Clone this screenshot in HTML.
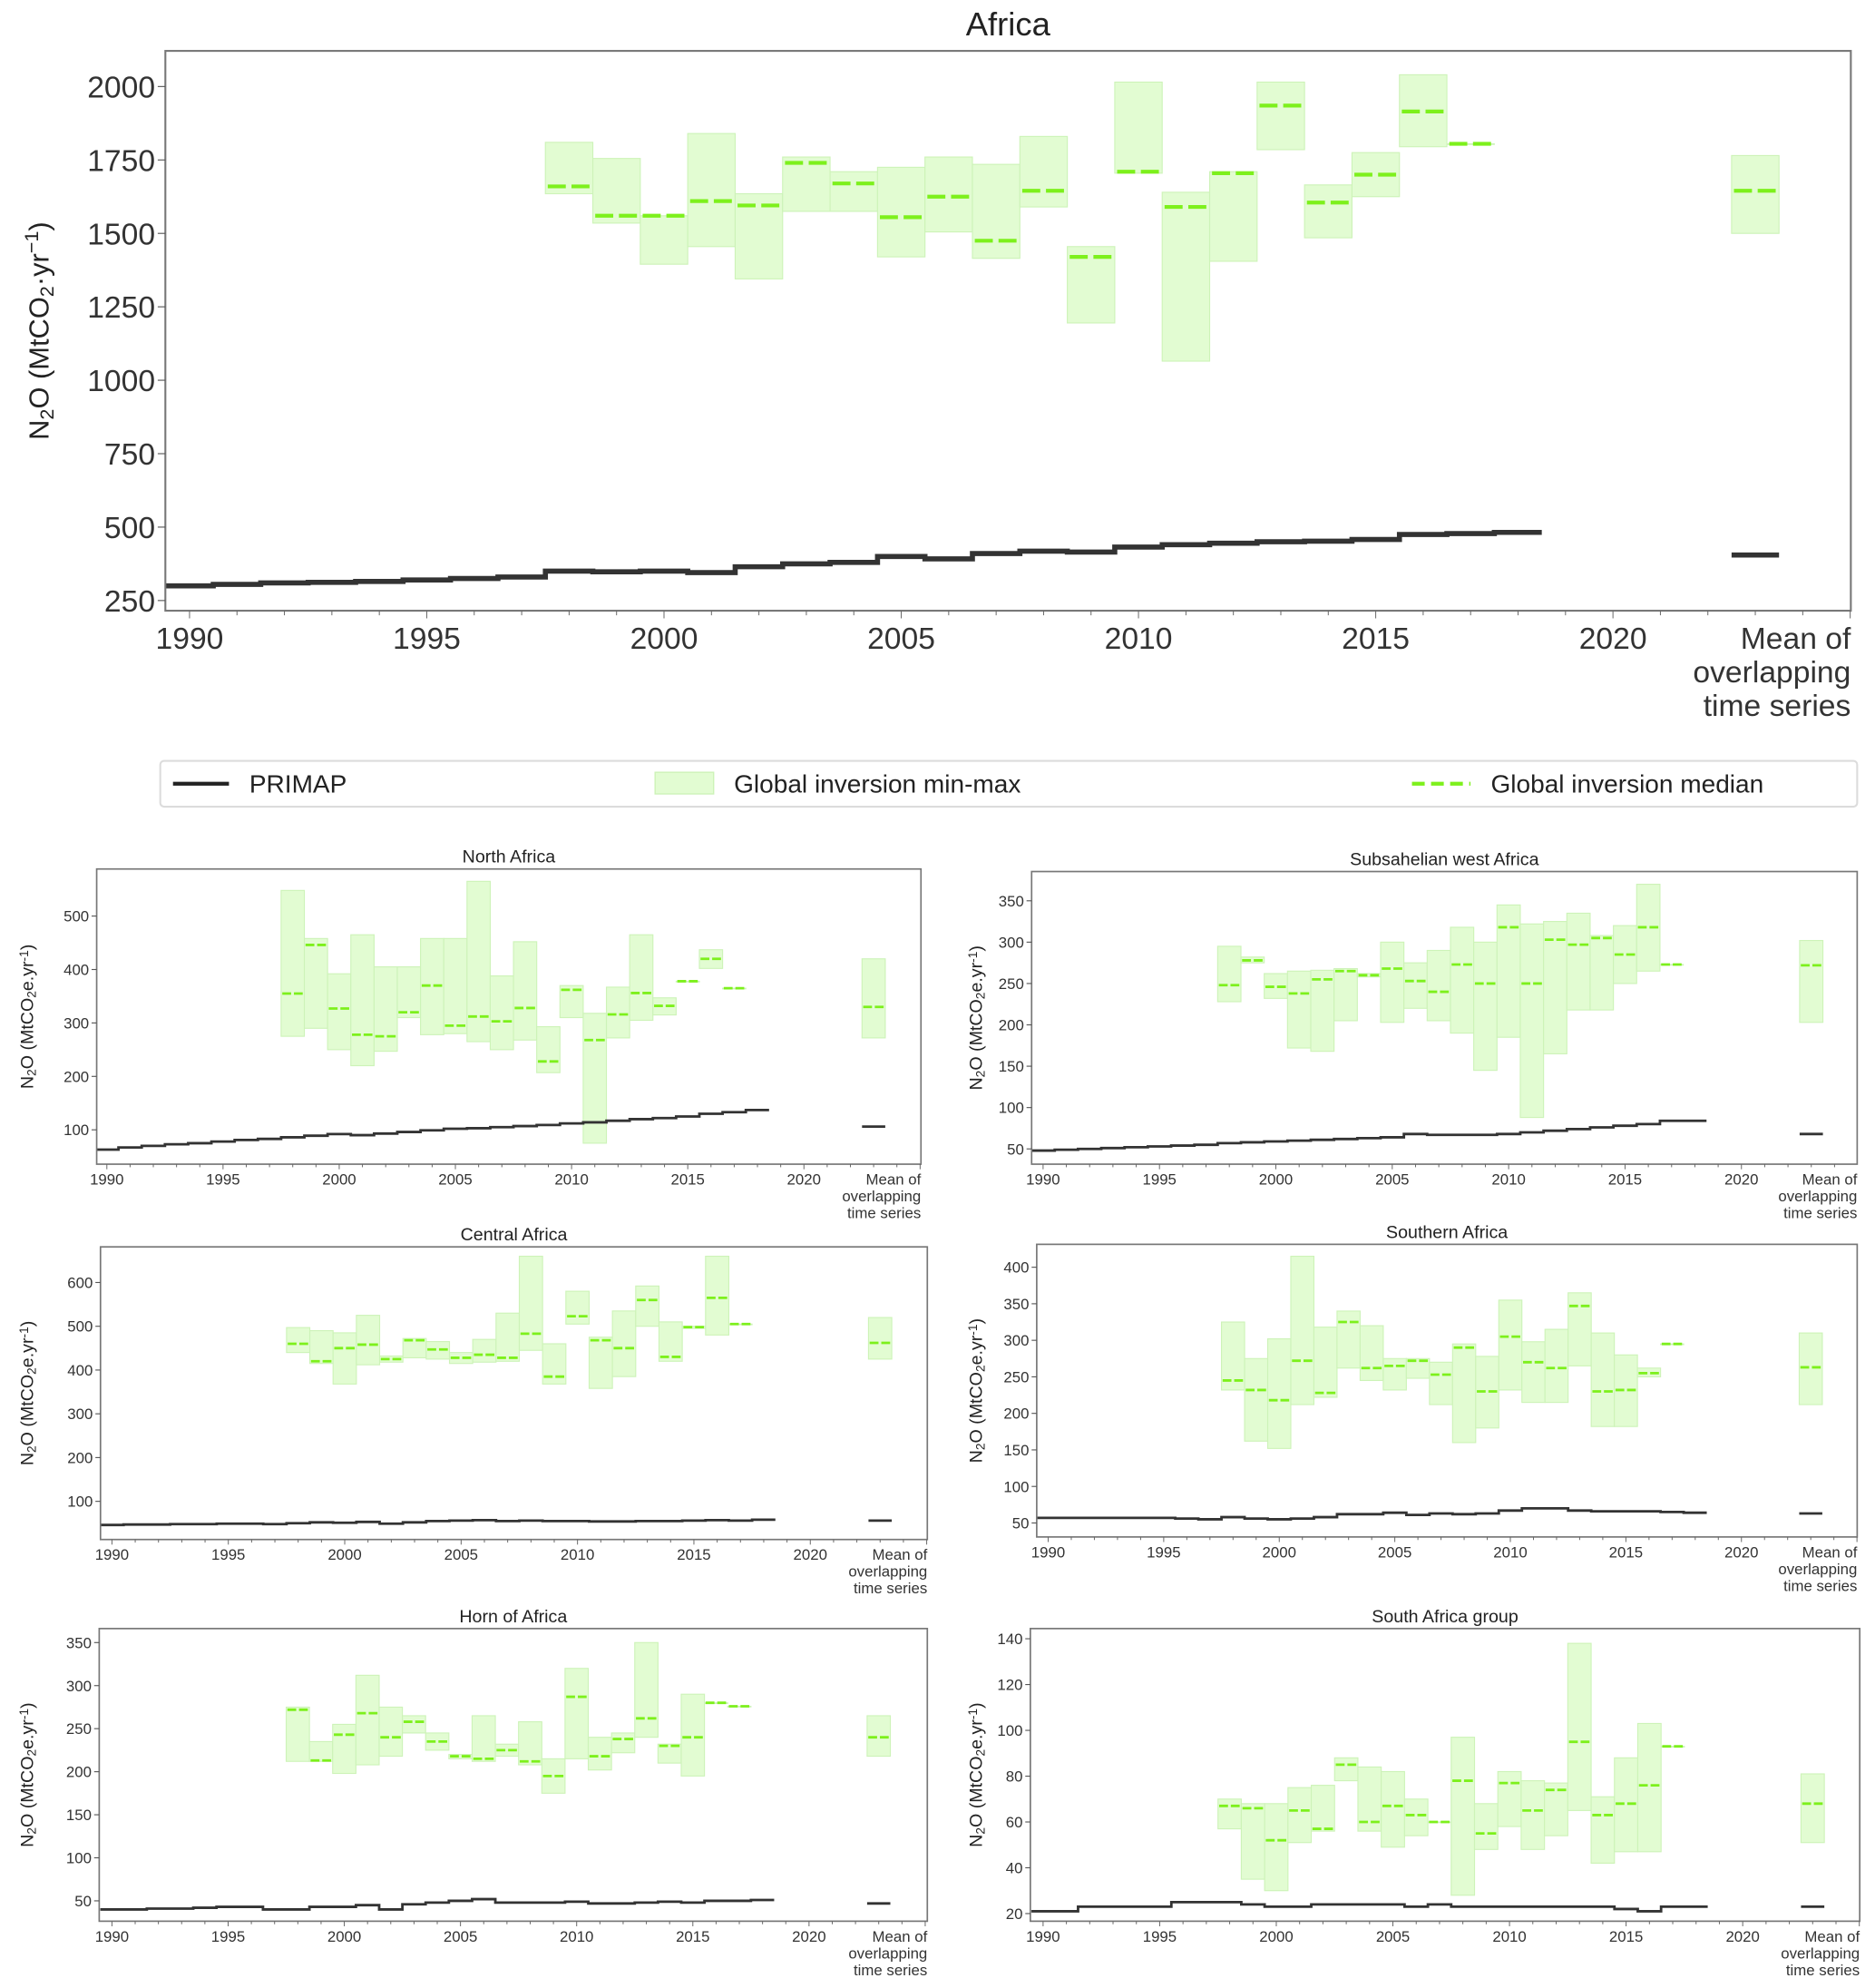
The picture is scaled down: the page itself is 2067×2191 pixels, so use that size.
<!DOCTYPE html>
<html><head><meta charset="utf-8"><style>
html,body{margin:0;padding:0;background:#fff;}
svg{display:block;font-family:"Liberation Sans","DejaVu Sans",sans-serif;}
</style></head><body>
<svg id="fig" width="2067" height="2191" viewBox="0 0 1474 1562.5" preserveAspectRatio="none" xmlns="http://www.w3.org/2000/svg">
<g id="legend">
<rect x="126" y="598" width="1334" height="36" rx="3" fill="#fff" stroke="#dcdcdc" stroke-width="1.5"/>
<g><line x1="136" y1="616" x2="180" y2="616" stroke="#222" stroke-width="3"/><text x="196" y="623" font-size="20" fill="#222">PRIMAP</text></g>
<g><rect x="515" y="607" width="46" height="17" fill="#e2fcd2" stroke="#cdf3b8"/><text x="577" y="623" font-size="20" fill="#222">Global inversion min-max</text></g>
<g><line x1="1110" y1="616" x2="1156" y2="616" stroke="#7df01c" stroke-width="3" stroke-dasharray="10,5"/><text x="1172" y="623" font-size="20" fill="#222">Global inversion median</text></g>
</g>
</svg>
<script>
const invYears=[1998,1999,2000,2001,2002,2003,2004,2005,2006,2007,2008,2009,2010,2011,2012,2013,2014,2015,2016,2017];
const primapYears=[1990,1991,1992,1993,1994,1995,1996,1997,1998,1999,2000,2001,2002,2003,2004,2005,2006,2007,2008,2009,2010,2011,2012,2013,2014,2015,2016,2017,2018];
const meanCategory="Mean of overlapping time series";

const africaMin=[1635,1535,1395,1455,1345,1575,1575,1420,1505,1415,1590,1195,1705,1065,1405,1785,1485,1625,1795,1805];
const africaMax=[1810,1755,1560,1840,1635,1760,1710,1725,1760,1735,1830,1455,2015,1640,1710,2015,1665,1775,2040,1805];
const africaMed=[1660,1560,1560,1610,1595,1740,1670,1555,1625,1475,1645,1420,1710,1590,1705,1935,1605,1700,1915,1805];
const africaPrimap=[300,305,310,312,315,320,325,330,350,348,350,345,365,375,380,400,392,410,418,415,432,440,445,450,452,458,475,478,482];
const africaMean=[1500,1765,1645,405];
const africaYTicks=[250,500,750,1000,1250,1500,1750,2000];

const naMin=[275,290,250,220,247,310,278,280,265,250,268,207,310,75,272,305,315,378,402,365];
const naMax=[548,458,392,465,405,405,458,458,565,388,452,293,370,318,367,465,347,378,437,365];
const naMed=[355,446,327,278,275,320,370,295,312,303,328,228,362,268,316,356,332,378,420,365];
const naPrimap=[63,67,70,73,75,78,81,83,86,89,92,90,93,96,99,102,103,105,107,109,112,114,117,120,122,125,130,133,137];
const naMean=[272,420,330,106];
const naYTicks=[100,200,300,400,500];

const swMin=[228,275,232,172,168,205,258,203,220,205,190,145,185,88,165,218,218,250,265,273];
const swMax=[295,282,262,265,266,268,262,300,275,290,318,300,345,322,325,335,308,320,370,273];
const swMed=[248,278,246,238,255,265,260,268,253,240,273,250,318,250,303,297,305,285,318,273];
const swPrimap=[48,49,50,51,52,53,54,55,57,58,59,60,61,62,63,64,68,67,67,67,68,70,72,74,76,78,80,84,84];
const swMean=[203,302,272,68];
const swYTicks=[50,100,150,200,250,300,350];

const caMin=[440,415,368,412,418,428,425,415,418,420,445,368,505,358,385,500,420,495,480,505];
const caMax=[497,490,485,525,432,472,465,440,470,530,660,460,580,475,535,592,510,500,660,505];
const caMed=[460,420,450,458,425,468,447,428,435,428,483,385,523,468,450,560,430,498,565,505];
const caPrimap=[46,47,47,48,48,49,49,48,50,52,51,53,49,52,55,56,57,55,56,55,55,54,54,55,55,56,57,56,58];
const caMean=[425,520,462,56];
const caYTicks=[100,200,300,400,500,600];

const saMin=[232,162,152,212,222,262,245,232,248,212,160,180,232,215,215,265,182,182,250,295];
const saMax=[325,275,302,415,318,340,320,275,275,270,295,278,355,298,315,365,310,280,262,295];
const saMed=[245,232,218,272,228,325,262,265,272,253,290,230,305,270,262,347,230,232,255,295];
const saPrimap=[57,57,57,57,57,57,56,55,58,56,55,56,58,62,62,64,61,63,62,63,67,70,70,67,66,66,66,65,64];
const saMean=[212,310,263,63];
const saYTicks=[50,100,150,200,250,300,350,400];

const hoMin=[212,212,198,208,218,245,225,215,212,218,208,175,215,202,222,240,210,195,280,276];
const hoMax=[275,235,255,312,275,265,245,220,265,232,258,215,320,240,245,350,232,290,280,276];
const hoMed=[272,213,243,268,240,258,235,218,215,225,212,195,287,218,238,262,230,240,280,276];
const hoPrimap=[40,40,41,41,42,43,43,40,40,43,43,45,40,46,48,50,52,48,48,48,49,47,47,48,49,48,50,50,51];
const hoMean=[218,265,240,47];
const hoYTicks=[50,100,150,200,250,300,350];

const sgMin=[57,35,30,51,56,78,56,49,54,60,28,48,58,48,54,65,42,47,47,93];
const sgMax=[70,68,68,75,76,88,84,82,70,60,97,68,82,78,77,138,71,88,103,93];
const sgMed=[67,66,52,65,57,85,60,67,63,60,78,55,77,65,74,95,63,68,76,93];
const sgPrimap=[21,21,23,23,23,23,25,25,25,24,23,23,24,24,24,24,23,24,23,23,23,23,23,23,23,22,21,23,23];
const sgMean=[51,81,68,23];
const sgYTicks=[20,40,60,80,100,120,140];

const xTickYears=[1990,1995,2000,2005,2010,2015,2020];

const NS="http://www.w3.org/2000/svg";
const svg=document.getElementById('fig');
function mk(tag,attrs,parent){const e=document.createElementNS(NS,tag);for(const k in attrs)e.setAttribute(k,attrs[k]);(parent||svg).appendChild(e);return e;}

function panel(id,title,L,mins,maxs,meds,primap,mean,yticks){
  const g=mk('g',{});
  
  
  const [x0,y0,x1,y1]=L.box;
  const xs=(L.x2020-L.x1990)/30;
  const X=v=>L.x1990+(v-1990)*xs;
  const ys=(L.ya[3]-L.ya[1])/(L.ya[2]-L.ya[0]);
  const Y=v=>L.ya[1]+(v-L.ya[0])*ys;
  const meanX=2023;
  const cp='clip-'+id;
  const cl=mk('clipPath',{id:cp},g);mk('rect',{x:x0,y:y0,width:x1-x0,height:y1-y0},cl);
  const t=mk('text',{x:(x0+x1)/2,y:y0-L.titleGap,'text-anchor':'middle','font-size':L.tfs,fill:'#222'},g);t.textContent=title;
  
  
  const marks=mk('g',{'clip-path':'url(#'+cp+')'},g);
  const sw=L.lw;
  for(let i=0;i<invYears.length;i++){
    const yr=invYears[i];
    const top=Y(maxs[i]),bot=Y(mins[i]);
    const r=mk('rect',{x:X(yr-0.5),y:top,width:xs,height:Math.max(bot-top,0.5),fill:'#e2fcd2',stroke:'#cdf3b8','stroke-width':0.8},marks);
    
    
  }
  for(let i=0;i<invYears.length;i++){
    const yr=invYears[i];
    const l=mk('line',{x1:X(yr-0.5)+xs*0.05,x2:X(yr+0.5),y1:Y(meds[i]),y2:Y(meds[i]),stroke:'#7df01c','stroke-width':L.mw,'stroke-dasharray':(xs*0.38)+','+(xs*0.12)},marks);
    
    
  }
  let d='';
  for(let i=0;i<primapYears.length;i++){const yr=primapYears[i];d+=(i?'L':'M')+X(yr-0.5)+','+Y(primap[i])+'L'+X(yr+0.5)+','+Y(primap[i]);}
  const p=mk('path',{d:d,fill:'none',stroke:'#333','stroke-width':sw},marks);
  
  
  const mr=mk('rect',{x:X(meanX-0.5),y:Y(mean[1]),width:xs,height:Y(mean[0])-Y(mean[1]),fill:'#e2fcd2',stroke:'#cdf3b8','stroke-width':0.8},marks);
  
  
  const mm=mk('line',{x1:X(meanX-0.5)+xs*0.05,x2:X(meanX+0.5),y1:Y(mean[2]),y2:Y(mean[2]),stroke:'#7df01c','stroke-width':L.mw,'stroke-dasharray':(xs*0.38)+','+(xs*0.12)},marks);
  
  
  const mp=mk('line',{x1:X(meanX-0.5),x2:X(meanX+0.5),y1:Y(mean[3]),y2:Y(mean[3]),stroke:'#333','stroke-width':sw},marks);
  
  
  const fr=mk('rect',{x:x0,y:y0,width:x1-x0,height:y1-y0,fill:'none',stroke:'#777','stroke-width':L.fw},g);
  
  
  for(const v of yticks){
    const yy=Y(v);
    mk('line',{x1:x0-L.tl,x2:x0,y1:yy,y2:yy,stroke:'#555','stroke-width':0.8},g);
    const tt=mk('text',{x:x0-L.tl-2,y:yy+L.fs*0.36,'text-anchor':'end','font-size':L.fs,fill:'#333'},g);tt.textContent=v;
    
    
  }
  for(let yr=1990;yr<=2025;yr++){const xx=X(yr);if(xx>x1)break;mk('line',{x1:xx,x2:xx,y1:y1,y2:y1+(yr%5?L.tl*0.6:L.tl),stroke:'#666','stroke-width':0.7},g);}
  for(const yr of xTickYears){
    const tt=mk('text',{x:X(yr),y:y1+L.tl+L.fs,'text-anchor':'middle','font-size':L.fs,fill:'#333'},g);tt.textContent=yr;
    
    
  }
  const words=['Mean of','overlapping','time series'];
  const mt=mk('text',{'font-size':L.fs,fill:'#333','text-anchor':'end'},g);
  
  
  words.forEach((w,i)=>{const s=mk('tspan',{x:x1,y:y1+L.tl+L.fs+i*L.fs*1.1},mt);s.textContent=w;});
  const yl=mk('text',{transform:'translate('+L.ylx+','+((y0+y1)/2)+') rotate(-90)','text-anchor':'middle','font-size':L.yfs,fill:'#222'},g);
  
  
  yl.innerHTML=L.ylab;
}
const labMain='N<tspan font-size="70%" dy="4">2</tspan><tspan dy="-4">O (MtCO</tspan><tspan font-size="70%" dy="4">2</tspan><tspan dy="-4">·yr</tspan><tspan font-size="70%" dy="-8">−1</tspan><tspan dy="8">)</tspan>';
const labSmall='N<tspan font-size="70%" dy="2">2</tspan><tspan dy="-2">O (MtCO</tspan><tspan font-size="70%" dy="2">2</tspan><tspan dy="-2">e.yr</tspan><tspan font-size="70%" dy="-4">-1</tspan><tspan dy="4">)</tspan>';
const sm={tfs:14,fs:12,tl:4,lw:2,mw:2,fw:1.2,yfs:14,titleGap:5,ylab:labSmall};
panel('africa','Africa',{box:[130,40,1455,480],x1990:149,x2020:1268,ya:[2000,68,250,472],tfs:26,fs:24,tl:6,lw:4,mw:3,fw:1.5,yfs:22,titleGap:12,ylx:38,ylab:labMain},africaMin,africaMax,africaMed,africaPrimap,africaMean,africaYTicks);
panel('north-africa','North Africa',Object.assign({box:[76,683,724,915],x1990:84,x2020:632,ya:[500,720,100,888],ylx:26},sm),naMin,naMax,naMed,naPrimap,naMean,naYTicks);
panel('subsahelian-west-africa','Subsahelian west Africa',Object.assign({box:[811,685,1460,915],x1990:820,x2020:1369,ya:[350,708,50,903],ylx:772},sm),swMin,swMax,swMed,swPrimap,swMean,swYTicks);
panel('central-africa','Central Africa',Object.assign({box:[79,980,729,1210],x1990:88,x2020:637,ya:[600,1008,100,1180],ylx:26},sm),caMin,caMax,caMed,caPrimap,caMean,caYTicks);
panel('southern-africa','Southern Africa',Object.assign({box:[815,978,1460,1208],x1990:824,x2020:1369,ya:[400,996,50,1197],ylx:772},sm),saMin,saMax,saMed,saPrimap,saMean,saYTicks);
panel('horn-of-africa','Horn of Africa',Object.assign({box:[78,1280,729,1510],x1990:88,x2020:636,ya:[350,1291,50,1494],ylx:26},sm),hoMin,hoMax,hoMed,hoPrimap,hoMean,hoYTicks);
panel('south-africa-group','South Africa group',Object.assign({box:[810,1280,1462,1510],x1990:820,x2020:1370,ya:[140,1288,20,1504],ylx:772},sm),sgMin,sgMax,sgMed,sgPrimap,sgMean,sgYTicks);
</script>
</body></html>
